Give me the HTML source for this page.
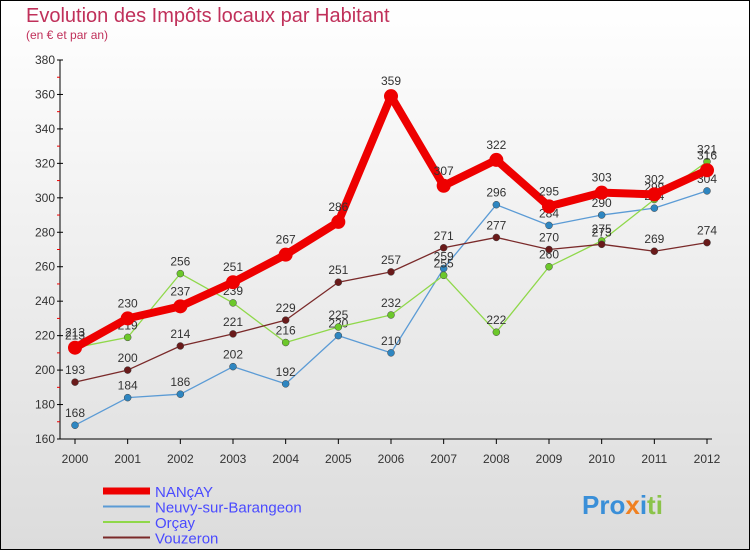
<!DOCTYPE html>
<html><head><meta charset="utf-8"><style>
body{margin:0;width:750px;height:550px;overflow:hidden;font-family:"Liberation Sans",sans-serif}
</style></head><body>
<svg width="750" height="550" xmlns="http://www.w3.org/2000/svg">
<defs><linearGradient id="bg" x1="0" y1="0" x2="0" y2="1"><stop offset="0" stop-color="#ffffff"/><stop offset="1" stop-color="#dcdcdc"/></linearGradient></defs>
<rect x="0.5" y="0.5" width="749" height="549" fill="url(#bg)" stroke="#000"/>
<text x="26" y="22" font-size="20" fill="#c0305a">Evolution des Impôts locaux par Habitant</text>
<text x="26" y="39" font-size="12" fill="#c0305a">(en € et par an)</text>
<g id="axes"></g><g id="series"></g><g id="legend"></g>
<text x="582" y="514" font-size="26" font-weight="bold" fill="#3a8fd8">Pro<tspan fill="#f08020">x</tspan><tspan fill="#3a8fd8">i</tspan><tspan fill="#8bc34a">ti</tspan></text>
</svg>
<script>
const years=[2000,2001,2002,2003,2004,2005,2006,2007,2008,2009,2010,2011,2012];
const nancay=[213,230,237,251,267,286,359,307,322,295,303,302,316];
const neuvy=[168,184,186,202,192,220,210,259,296,284,290,294,304];
const orcay=[213,219,256,239,216,225,232,255,222,260,275,299,321];
const vouzeron=[193,200,214,221,229,251,257,271,277,270,273,269,274];
const yTicks=[160,180,200,220,240,260,280,300,320,340,360,380];
const NS="http://www.w3.org/2000/svg";
const x=i=>75+i*(707-75)/12;
const y=v=>439-(v-160)*(439-60)/220;
function mk(t,a,p){const e=document.createElementNS(NS,t);for(const k in a)e.setAttribute(k,a[k]);p.appendChild(e);return e;}
const ax=document.getElementById('axes');
let l=mk('line',{x1:60,y1:60,x2:60,y2:439,stroke:'#000'},ax);


l=mk('line',{x1:60,y1:439,x2:712,y2:439,stroke:'#000'},ax);


yTicks.forEach(v=>{
 mk('line',{x1:57,y1:y(v),x2:63,y2:y(v),stroke:'#000'},ax);
 if(v<380) mk('line',{x1:57,y1:y(v+10),x2:60,y2:y(v+10),stroke:'#e00'},ax);
 const t=mk('text',{x:55,y:y(v)+4,'font-size':12,fill:'#333','text-anchor':'end'},ax);t.textContent=v;
 
 
});
years.forEach((yr,i)=>{
 mk('line',{x1:x(i),y1:439,x2:x(i),y2:444,stroke:'#000'},ax);
 const t=mk('text',{x:x(i),y:463,'font-size':12,fill:'#333','text-anchor':'middle'},ax);t.textContent=yr;
 
 
});
const S=[
 {n:'Neuvy-sur-Barangeon',d:neuvy,c:'#5b9bd5',f:'#2e86c1',w:1.3,r:3.5,k:'neuvy'},
 {n:'Orçay',d:orcay,c:'#8fd84a',f:'#6cc82a',w:1.3,r:3.5,k:'orcay'},
 {n:'Vouzeron',d:vouzeron,c:'#7a2a2a',f:'#6a1a1a',w:1.3,r:3.5,k:'vouzeron'},
 {n:'NANçAY',d:nancay,c:'#ee0000',f:'#ee0000',w:8,r:7,k:'nancay'}];
const sg=document.getElementById('series');
S.forEach(s=>{
 const g=mk('g',{},sg);
 
 
 mk('polyline',{points:s.d.map((v,i)=>x(i)+','+y(v)).join(' '),fill:'none',stroke:s.c,'stroke-width':s.w,'stroke-linejoin':'round'},g);
 s.d.forEach((v,i)=>{
  const c=mk('circle',{cx:x(i),cy:y(v),r:s.r,fill:s.f,stroke:s.w>2?'none':'#444','stroke-width':0.5},g);
  
  
  const t=mk('text',{x:x(i),y:y(v)-(s.w>2?11:8),'font-size':12,fill:'#333','text-anchor':'middle'},g);t.textContent=v;
 });
});
const lg=document.getElementById('legend');
[S[3],S[0],S[1],S[2]].forEach((s,i)=>{
 const yy=491+i*15.5;
 const g=mk('g',{},lg);
 
 
 mk('line',{x1:103,y1:yy,x2:150,y2:yy,stroke:s.c,'stroke-width':s.w>2?7:2},g);
 const t=mk('text',{x:155,y:yy+6,'font-size':15,fill:'#4a4aff'},g);t.textContent=s.n;
});
</script>
</body></html>
